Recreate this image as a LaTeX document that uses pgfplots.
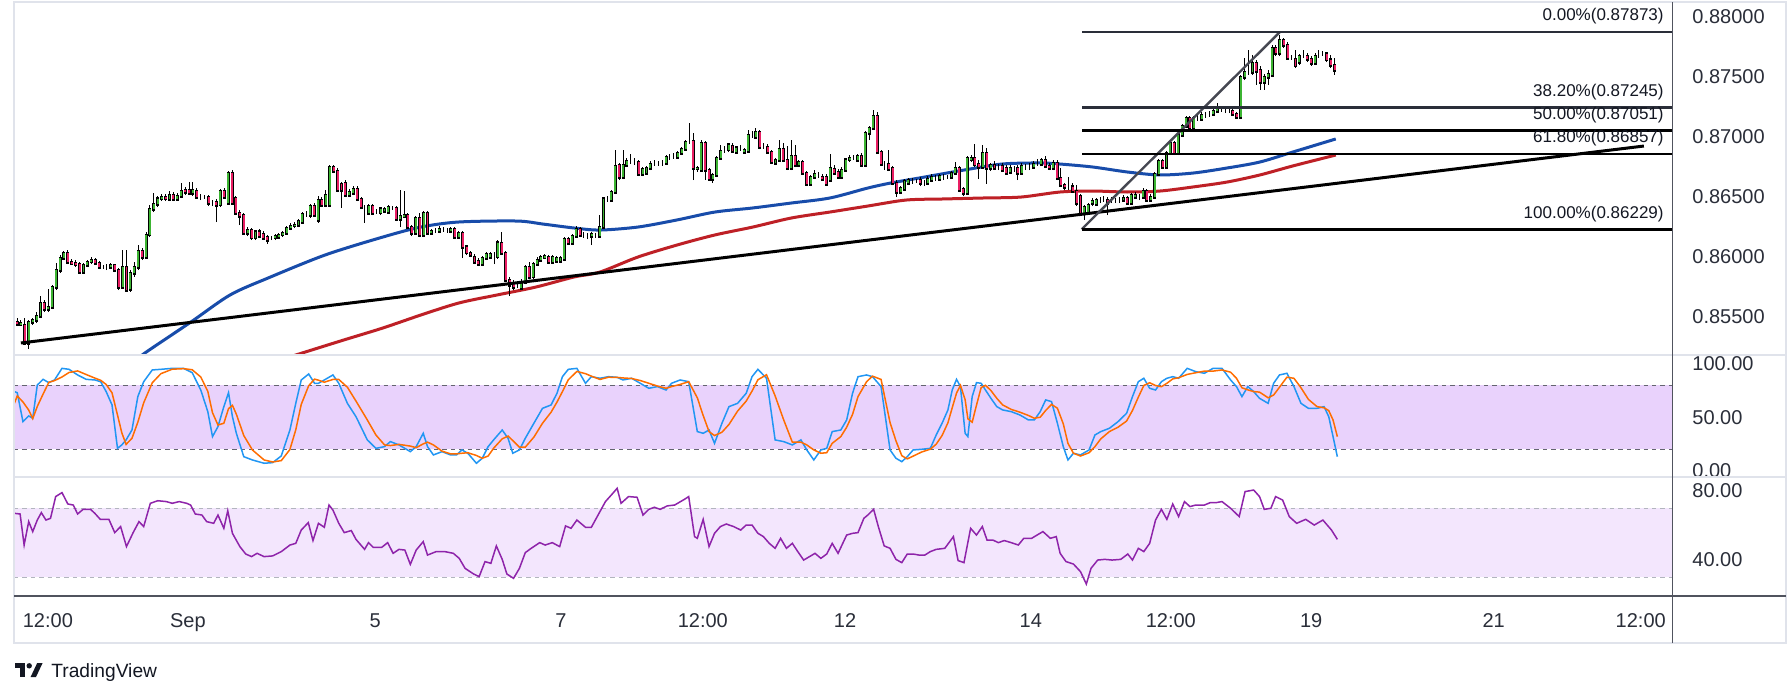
\documentclass[border=0pt]{standalone}
\usepackage{pgfplots}
\pgfplotsset{compat=1.18}
\usepackage{pgfplotstable}
\usepackage{fontspec}
\setmainfont{Liberation Sans}
\definecolor{cgreen}{RGB}{60,180,50}
\definecolor{cpink}{RGB}{233,30,99}
\definecolor{mablue}{RGB}{24,76,170}
\definecolor{mared}{RGB}{190,32,38}
\definecolor{kblue}{RGB}{33,150,243}
\definecolor{dorange}{RGB}{255,109,0}
\definecolor{rsipurple}{RGB}{142,36,170}
\definecolor{stband}{RGB}{233,210,252}
\definecolor{rsiband}{RGB}{243,230,253}
\definecolor{frame}{RGB}{224,227,235}
\definecolor{axisdark}{RGB}{80,83,94}
\definecolor{lbl}{RGB}{42,46,57}
\definecolor{tvblack}{RGB}{19,23,34}
\definecolor{diaggray}{RGB}{70,72,82}
\definecolor{dashdark}{RGB}{100,100,112}
\definecolor{dashlight}{RGB}{178,181,190}

\pgfplotstableread{
o c h l
0.85457 0.85440 0.85490 0.85423
0.85440 0.85448 0.85473 0.85432
0.85432 0.85282 0.85490 0.85265
0.85282 0.85457 0.85473 0.85232
0.85457 0.85473 0.85490 0.85432
0.85473 0.85507 0.85540 0.85448
0.85507 0.85615 0.85673 0.85490
0.85615 0.85565 0.85640 0.85540
0.85565 0.85582 0.85732 0.85540
0.85582 0.85748 0.85765 0.85565
0.85748 0.85890 0.85948 0.85723
0.85890 0.85990 0.86015 0.85865
0.85990 0.86032 0.86048 0.85973
0.86032 0.85957 0.86057 0.85940
0.85957 0.85948 0.85982 0.85932
0.85948 0.85940 0.85973 0.85915
0.85940 0.85873 0.85957 0.85865
0.85873 0.85932 0.85948 0.85857
0.85932 0.85957 0.85973 0.85915
0.85957 0.85973 0.85998 0.85940
0.85973 0.85948 0.85990 0.85932
0.85948 0.85915 0.85965 0.85898
0.85915 0.85915 0.85932 0.85898
0.85915 0.85915 0.85940 0.85890
0.85915 0.85932 0.85948 0.85898
0.85932 0.85890 0.85940 0.85873
0.85890 0.85748 0.85907 0.85723
0.85748 0.85915 0.86057 0.85732
0.85915 0.85723 0.86057 0.85707
0.85732 0.85865 0.85890 0.85707
0.85865 0.85915 0.85957 0.85832
0.85915 0.86048 0.86098 0.85890
0.86048 0.85998 0.86073 0.85973
0.85998 0.86182 0.86207 0.85990
0.86182 0.86398 0.86432 0.86165
0.86398 0.86440 0.86532 0.86373
0.86440 0.86482 0.86507 0.86415
0.86482 0.86498 0.86523 0.86465
0.86498 0.86482 0.86523 0.86465
0.86482 0.86515 0.86548 0.86465
0.86515 0.86482 0.86540 0.86465
0.86482 0.86507 0.86532 0.86473
0.86507 0.86548 0.86615 0.86490
0.86557 0.86540 0.86582 0.86515
0.86557 0.86532 0.86623 0.86515
0.86532 0.86557 0.86623 0.86507
0.86548 0.86498 0.86573 0.86482
0.86498 0.86498 0.86523 0.86473
0.86498 0.86498 0.86515 0.86482
0.86498 0.86448 0.86515 0.86423
0.86448 0.86448 0.86473 0.86423
0.86457 0.86432 0.86482 0.86290
0.86432 0.86548 0.86565 0.86415
0.86548 0.86498 0.86573 0.86482
0.86448 0.86698 0.86715 0.86432
0.86698 0.86448 0.86723 0.86432
0.86490 0.86365 0.86507 0.86348
0.86365 0.86340 0.86390 0.86265
0.86348 0.86198 0.86365 0.86182
0.86198 0.86223 0.86248 0.86173
0.86223 0.86157 0.86240 0.86140
0.86157 0.86207 0.86223 0.86140
0.86207 0.86173 0.86232 0.86157
0.86190 0.86157 0.86215 0.86140
0.86165 0.86140 0.86182 0.86107
0.86157 0.86157 0.86173 0.86140
0.86157 0.86173 0.86190 0.86140
0.86165 0.86182 0.86198 0.86148
0.86182 0.86198 0.86215 0.86165
0.86198 0.86240 0.86257 0.86182
0.86240 0.86257 0.86282 0.86223
0.86257 0.86265 0.86290 0.86240
0.86265 0.86298 0.86315 0.86248
0.86290 0.86357 0.86373 0.86282
0.86357 0.86357 0.86382 0.86332
0.86348 0.86423 0.86440 0.86323
0.86423 0.86348 0.86448 0.86332
0.86307 0.86473 0.86507 0.86282
0.86473 0.86432 0.86498 0.86415
0.86432 0.86515 0.86557 0.86415
0.86432 0.86748 0.86765 0.86415
0.86748 0.86715 0.86765 0.86698
0.86715 0.86557 0.86740 0.86540
0.86607 0.86557 0.86623 0.86407
0.86615 0.86515 0.86640 0.86498
0.86515 0.86540 0.86565 0.86498
0.86532 0.86565 0.86590 0.86515
0.86565 0.86482 0.86590 0.86465
0.86482 0.86415 0.86498 0.86398
0.86365 0.86365 0.86432 0.86282
0.86365 0.86423 0.86440 0.86348
0.86423 0.86365 0.86440 0.86348
0.86373 0.86373 0.86398 0.86357
0.86365 0.86398 0.86415 0.86348
0.86382 0.86398 0.86415 0.86365
0.86373 0.86415 0.86432 0.86357
0.86407 0.86407 0.86423 0.86390
0.86407 0.86315 0.86423 0.86298
0.86315 0.86340 0.86557 0.86248
0.86340 0.86348 0.86548 0.86323
0.86348 0.86248 0.86365 0.86232
0.86248 0.86198 0.86265 0.86173
0.86198 0.86323 0.86340 0.86182
0.86323 0.86182 0.86365 0.86165
0.86182 0.86365 0.86382 0.86165
0.86365 0.86198 0.86382 0.86182
0.86198 0.86215 0.86232 0.86182
0.86215 0.86215 0.86240 0.86198
0.86215 0.86232 0.86257 0.86198
0.86232 0.86232 0.86248 0.86207
0.86223 0.86223 0.86240 0.86198
0.86215 0.86232 0.86248 0.86198
0.86232 0.86165 0.86248 0.86148
0.86165 0.86198 0.86215 0.86148
0.86198 0.86082 0.86215 0.85990
0.86082 0.86032 0.86098 0.86015
0.86032 0.86015 0.86048 0.85998
0.85998 0.85957 0.86023 0.85940
0.85965 0.85940 0.85990 0.85923
0.85940 0.85990 0.86007 0.85923
0.85990 0.86023 0.86040 0.85973
0.85998 0.86023 0.86040 0.85982
0.86007 0.86007 0.86040 0.85940
0.85998 0.86115 0.86140 0.85982
0.86115 0.86032 0.86207 0.86015
0.86032 0.85807 0.86048 0.85790
0.85807 0.85765 0.85832 0.85673
0.85782 0.85748 0.85807 0.85723
0.85765 0.85765 0.85790 0.85740
0.85740 0.85790 0.85815 0.85723
0.85790 0.85915 0.85932 0.85773
0.85915 0.85832 0.85957 0.85815
0.85832 0.85940 0.85957 0.85815
0.85940 0.85973 0.85998 0.85923
0.85973 0.85998 0.86015 0.85957
0.85998 0.86007 0.86023 0.85982
0.85998 0.85957 0.86015 0.85940
0.85957 0.85998 0.86015 0.85940
0.85965 0.85990 0.86007 0.85948
0.85965 0.85990 0.86007 0.85948
0.85982 0.86148 0.86165 0.85965
0.86148 0.86115 0.86165 0.86098
0.86115 0.86173 0.86190 0.86098
0.86173 0.86232 0.86257 0.86157
0.86232 0.86182 0.86248 0.86165
0.86182 0.86182 0.86207 0.86157
0.86173 0.86173 0.86198 0.86148
0.86173 0.86190 0.86207 0.86098
0.86173 0.86173 0.86198 0.86157
0.86173 0.86248 0.86348 0.86157
0.86248 0.86482 0.86498 0.86232
0.86482 0.86482 0.86507 0.86457
0.86473 0.86540 0.86557 0.86457
0.86540 0.86757 0.86890 0.86523
0.86765 0.86665 0.86782 0.86640
0.86665 0.86765 0.86890 0.86648
0.86765 0.86798 0.86823 0.86748
0.86798 0.86798 0.86857 0.86773
0.86790 0.86790 0.86823 0.86765
0.86790 0.86690 0.86807 0.86673
0.86690 0.86732 0.86748 0.86673
0.86698 0.86740 0.86757 0.86682
0.86740 0.86773 0.86798 0.86723
0.86782 0.86782 0.86807 0.86757
0.86782 0.86782 0.86798 0.86757
0.86782 0.86782 0.86807 0.86757
0.86782 0.86832 0.86848 0.86765
0.86832 0.86832 0.86857 0.86807
0.86840 0.86840 0.86865 0.86815
0.86832 0.86865 0.86882 0.86815
0.86865 0.86898 0.86915 0.86848
0.86898 0.86957 0.86973 0.86882
0.86965 0.86965 0.87115 0.86940
0.86965 0.86740 0.87032 0.86640
0.86732 0.86740 0.86757 0.86707
0.86723 0.86948 0.86973 0.86707
0.86948 0.86723 0.86965 0.86640
0.86723 0.86648 0.86740 0.86632
0.86648 0.86682 0.86698 0.86615
0.86682 0.86823 0.86840 0.86665
0.86823 0.86882 0.86932 0.86807
0.86890 0.86890 0.86923 0.86865
0.86890 0.86932 0.86948 0.86873
0.86923 0.86882 0.86948 0.86865
0.86873 0.86907 0.86923 0.86857
0.86907 0.86907 0.86932 0.86882
0.86873 0.86890 0.86907 0.86857
0.86882 0.87015 0.87057 0.86865
0.87015 0.87015 0.87048 0.86990
0.86998 0.87040 0.87073 0.86982
0.87040 0.86915 0.87057 0.86898
0.86923 0.86923 0.86948 0.86898
0.86915 0.86873 0.86940 0.86857
0.86873 0.86790 0.86890 0.86773
0.86782 0.86807 0.86823 0.86765
0.86807 0.86898 0.86973 0.86790
0.86898 0.86807 0.86948 0.86790
0.86807 0.86740 0.86923 0.86723
0.86740 0.86840 0.86973 0.86723
0.86840 0.86765 0.86932 0.86748
0.86765 0.86790 0.86807 0.86748
0.86790 0.86698 0.86807 0.86682
0.86698 0.86607 0.86715 0.86590
0.86607 0.86665 0.86682 0.86590
0.86665 0.86690 0.86723 0.86648
0.86682 0.86682 0.86707 0.86657
0.86665 0.86648 0.86690 0.86632
0.86665 0.86607 0.86690 0.86590
0.86640 0.86740 0.86857 0.86623
0.86732 0.86698 0.86765 0.86682
0.86707 0.86665 0.86732 0.86648
0.86665 0.86723 0.86748 0.86648
0.86723 0.86807 0.86823 0.86707
0.86807 0.86823 0.86848 0.86790
0.86823 0.86823 0.86848 0.86807
0.86807 0.86840 0.86857 0.86790
0.86840 0.86765 0.86865 0.86748
0.86765 0.87032 0.87048 0.86748
0.87032 0.87073 0.87090 0.86973
0.87073 0.87173 0.87223 0.87057
0.87173 0.86873 0.87207 0.86857
0.86873 0.86773 0.86890 0.86757
0.86773 0.86773 0.86798 0.86723
0.86773 0.86732 0.86890 0.86715
0.86740 0.86615 0.86757 0.86598
0.86615 0.86540 0.86640 0.86498
0.86540 0.86573 0.86590 0.86523
0.86565 0.86632 0.86648 0.86548
0.86615 0.86640 0.86657 0.86598
0.86632 0.86632 0.86657 0.86607
0.86632 0.86632 0.86648 0.86615
0.86640 0.86615 0.86665 0.86590
0.86615 0.86615 0.86640 0.86590
0.86615 0.86648 0.86673 0.86598
0.86640 0.86665 0.86690 0.86623
0.86657 0.86657 0.86682 0.86632
0.86648 0.86673 0.86690 0.86632
0.86665 0.86665 0.86690 0.86640
0.86665 0.86665 0.86682 0.86648
0.86665 0.86698 0.86715 0.86648
0.86698 0.86740 0.86790 0.86682
0.86740 0.86557 0.86757 0.86540
0.86565 0.86532 0.86582 0.86507
0.86532 0.86823 0.86840 0.86515
0.86807 0.86823 0.86848 0.86790
0.86823 0.86765 0.86940 0.86748
0.86773 0.86748 0.86807 0.86648
0.86748 0.86865 0.86932 0.86732
0.86865 0.86740 0.86907 0.86607
0.86740 0.86765 0.86782 0.86715
0.86765 0.86740 0.86798 0.86723
0.86748 0.86748 0.86773 0.86723
0.86757 0.86723 0.86782 0.86707
0.86740 0.86698 0.86765 0.86682
0.86707 0.86740 0.86765 0.86690
0.86732 0.86732 0.86757 0.86707
0.86740 0.86698 0.86765 0.86640
0.86698 0.86757 0.86782 0.86682
0.86748 0.86748 0.86773 0.86723
0.86748 0.86748 0.86782 0.86723
0.86748 0.86773 0.86798 0.86732
0.86782 0.86782 0.86815 0.86757
0.86773 0.86807 0.86823 0.86757
0.86807 0.86757 0.86840 0.86740
0.86757 0.86740 0.86782 0.86723
0.86740 0.86782 0.86807 0.86723
0.86782 0.86657 0.86807 0.86640
0.86657 0.86598 0.86740 0.86582
0.86598 0.86582 0.86615 0.86557
0.86582 0.86582 0.86665 0.86557
0.86582 0.86548 0.86615 0.86532
0.86548 0.86448 0.86598 0.86423
0.86507 0.86365 0.86523 0.86340
0.86365 0.86415 0.86432 0.86307
0.86373 0.86432 0.86448 0.86357
0.86448 0.86465 0.86490 0.86423
0.86440 0.86473 0.86490 0.86423
0.86473 0.86473 0.86498 0.86448
0.86482 0.86482 0.86507 0.86457
0.86473 0.86448 0.86498 0.86348
0.86473 0.86473 0.86498 0.86448
0.86473 0.86473 0.86490 0.86448
0.86473 0.86473 0.86498 0.86448
0.86473 0.86490 0.86515 0.86457
0.86490 0.86448 0.86507 0.86432
0.86448 0.86515 0.86532 0.86432
0.86498 0.86515 0.86540 0.86482
0.86498 0.86498 0.86523 0.86473
0.86498 0.86548 0.86573 0.86482
0.86548 0.86473 0.86565 0.86457
0.86473 0.86498 0.86523 0.86457
0.86498 0.86690 0.86707 0.86482
0.86690 0.86798 0.86815 0.86673
0.86798 0.86748 0.86815 0.86732
0.86748 0.86865 0.86882 0.86732
0.86865 0.86948 0.86965 0.86848
0.86948 0.86865 0.86965 0.86848
0.86865 0.87015 0.87032 0.86848
0.87015 0.87090 0.87107 0.86998
0.87090 0.87157 0.87173 0.87073
0.87157 0.87073 0.87173 0.87057
0.87073 0.87157 0.87173 0.87057
0.87157 0.87157 0.87182 0.87132
0.87148 0.87182 0.87207 0.87132
0.87182 0.87182 0.87207 0.87157
0.87190 0.87190 0.87215 0.87165
0.87190 0.87215 0.87232 0.87173
0.87215 0.87232 0.87282 0.87198
0.87232 0.87232 0.87257 0.87207
0.87223 0.87223 0.87248 0.87198
0.87223 0.87223 0.87248 0.87198
0.87215 0.87190 0.87232 0.87173
0.87190 0.87165 0.87207 0.87148
0.87165 0.87498 0.87515 0.87148
0.87498 0.87540 0.87657 0.87473
0.87540 0.87540 0.87723 0.87515
0.87540 0.87615 0.87682 0.87515
0.87615 0.87548 0.87640 0.87432
0.87557 0.87457 0.87590 0.87390
0.87457 0.87498 0.87523 0.87390
0.87498 0.87523 0.87557 0.87432
0.87515 0.87740 0.87765 0.87498
0.87740 0.87698 0.87765 0.87673
0.87698 0.87807 0.87848 0.87673
0.87807 0.87765 0.87823 0.87740
0.87765 0.87657 0.87790 0.87640
0.87657 0.87657 0.87682 0.87640
0.87648 0.87590 0.87723 0.87573
0.87623 0.87673 0.87690 0.87598
0.87673 0.87673 0.87723 0.87657
0.87673 0.87648 0.87698 0.87623
0.87648 0.87615 0.87673 0.87590
0.87615 0.87673 0.87698 0.87598
0.87682 0.87682 0.87723 0.87657
0.87690 0.87690 0.87715 0.87673
0.87690 0.87640 0.87707 0.87623
0.87640 0.87598 0.87682 0.87573
0.87598 0.87557 0.87657 0.87515
}\candles

\pgfplotstableread{
h k d
-0.68 74.1 63.0
0.06 73.1 70.0
1.52 45.9 64.4
2.99 51.3 56.8
4.02 49.1 48.8
5.19 80.3 60.2
6.66 85.6 71.7
8.13 82.5 82.8
9.6 85.0 84.4
11.5 95.9 87.8
13.3 95.0 92.0
15.5 89.7 93.5
17.7 85.6 90.1
19.9 85.0 86.8
21.4 83.4 84.7
22.8 74.1 80.8
24.3 61.6 73.0
25.7 20.9 52.2
26.8 24.1 35.5
27.9 28.8 24.6
29.4 38.1 30.3
30.9 69.4 45.4
32.4 83.4 63.6
34.6 94.4 82.4
36.8 95.0 90.9
39.7 95.9 95.1
42.6 95.9 95.6
44.8 91.9 94.6
47.0 75.6 87.8
48.8 55.3 74.3
50.0 31.9 54.3
51.4 41.3 42.8
52.9 60.0 44.4
54.1 73.1 58.1
55.1 50.6 61.2
56.1 35.0 52.9
58.0 13.1 32.9
60.2 10.0 19.4
63.2 6.9 10.0
65.4 7.5 8.1
67.6 13.8 9.4
69.8 38.1 19.8
71.3 63.1 38.3
72.7 85.0 62.1
74.6 90.6 79.6
76.1 81.9 85.8
77.1 81.9 84.8
78.6 85.0 82.9
80.8 89.7 85.5
82.3 81.9 85.5
84.5 63.1 78.2
86.7 50.6 65.2
89.6 28.8 47.5
91.8 20.9 33.4
94.0 22.5 24.1
95.5 27.2 23.5
97.7 24.1 24.6
100.6 17.8 23.0
102.1 22.5 21.5
103.9 35.0 25.1
105.0 22.5 26.7
106.5 14.7 24.1
108.7 17.8 18.3
110.9 14.7 15.7
112.4 14.7 15.7
113.8 19.4 16.3
115.3 16.3 16.8
117.5 6.9 14.2
119.0 11.6 11.6
120.5 22.5 13.7
121.9 28.8 21.0
124.1 38.1 29.8
125.6 30.3 32.4
126.8 16.3 28.2
128.5 19.4 22.0
130.0 30.3 22.0
132.2 44.4 31.4
134.4 58.4 44.4
136.6 61.6 54.8
138.1 72.5 64.2
139.5 88.1 74.1
141.0 95.0 85.2
143.2 95.9 93.0
145.4 81.9 90.9
146.9 88.1 88.6
149.1 86.6 85.5
151.3 88.1 87.6
153.5 87.5 87.4
155.0 85.0 86.9
157.2 86.6 86.4
159.4 81.9 84.5
161.6 77.2 81.9
163.8 78.8 79.3
166.0 75.6 77.2
167.4 81.9 78.8
169.6 85.0 80.8
171.8 83.4 83.4
174.0 36.6 68.3
175.5 35.0 51.7
177.0 38.1 36.6
178.4 25.6 32.9
180.3 44.4 36.0
182.1 60.0 43.3
184.3 63.1 55.8
186.5 72.5 65.2
188.0 88.1 74.6
189.5 95.0 85.2
191.7 86.6 89.9
193.9 28.8 70.1
196.1 27.2 47.5
198.3 24.1 26.7
200.5 28.8 26.7
202.0 19.4 24.1
203.8 10.0 19.4
205.6 19.4 16.3
207.1 20.9 16.8
208.5 36.6 25.6
210.7 38.1 31.9
212.2 47.5 40.7
213.7 72.5 52.7
215.1 88.1 69.4
217.3 89.7 83.4
218.8 88.1 88.6
221.0 78.8 85.5
223.3 19.4 45.0
224.8 11.6 28.0
226.3 8.4 14.0
227.7 13.1 11.0
229.2 19.4 13.6
231.4 20.0 17.5
233.6 20.9 20.1
235.1 33.4 24.8
236.6 44.4 32.9
238.1 56.9 44.9
239.2 75.6 59.0
240.3 85.6 72.7
241.3 78.8 80.0
242.5 35.0 66.5
243.2 31.9 48.6
244.3 69.4 45.4
245.4 82.5 61.3
246.6 81.9 77.9
247.7 75.6 80.0
249.1 67.8 75.1
250.6 60.0 67.8
252.1 56.9 61.6
254.3 55.3 57.4
256.5 52.2 54.8
258.7 47.5 51.7
260.2 47.5 49.1
261.7 55.3 50.1
263.1 66.3 56.4
264.6 64.7 62.1
266.1 44.4 58.5
267.6 22.5 43.9
268.8 10.0 25.6
270.2 16.3 16.3
272.0 14.7 13.7
274.2 19.4 16.8
275.7 33.4 22.5
277.2 36.6 29.8
279.4 39.7 36.6
281.6 45.9 40.7
283.8 53.8 46.5
285.3 69.4 56.4
286.8 83.4 68.9
288.2 86.6 79.8
289.7 77.2 82.4
291.2 75.6 79.8
292.7 83.4 78.7
294.1 86.6 81.9
295.6 88.1 86.0
297.1 86.6 87.1
299.3 95.9 90.2
301.5 92.8 91.8
303.7 91.3 93.3
305.9 95.9 93.3
308.2 95.9 94.4
310.4 85.0 92.3
311.9 78.8 86.6
313.3 69.4 77.7
314.8 78.8 75.7
316.3 74.1 74.1
317.8 67.8 73.6
320.0 63.1 68.3
321.4 81.9 70.9
322.9 89.7 78.2
324.8 91.3 87.6
326.6 78.8 86.6
328.4 63.1 77.7
330.3 58.4 66.8
332.5 58.4 60.0
334.3 60.0 58.9
335.5 50.6 56.3
336.6 31.9 47.5
337.7 13.1 31.9
}\stoch

\pgfplotstableread{
h r
-0.68 67.1
0.79 66.7
1.82 48.7
2.99 62.3
4.02 56.5
5.19 63.2
6.22 67.5
7.4 63.2
8.57 64.2
9.89 76.8
11.5 79.1
13.0 72.5
14.4 71.9
15.5 66.7
16.9 69.4
18.8 69.4
19.9 67.1
21.3 63.6
23.5 63.6
25.0 55.9
26.5 59.4
28.0 47.8
29.7 55.9
31.2 62.3
32.4 59.4
34.1 72.9
36.0 74.4
38.2 73.9
39.7 72.9
41.5 73.9
43.4 72.9
44.4 71.9
45.6 66.7
47.3 66.1
48.5 62.3
50.3 61.3
51.4 66.1
52.9 58.4
53.9 68.6
55.1 55.5
57.0 47.8
58.5 43.5
60.0 42.0
61.4 43.9
63.2 42.0
65.4 42.4
67.6 44.9
69.8 48.7
71.3 49.7
72.7 57.4
74.5 61.7
75.7 51.3
77.1 61.3
78.6 59.0
79.8 71.9
80.8 69.0
82.3 61.3
83.7 55.9
85.5 57.1
86.7 52.0
88.9 46.2
89.9 50.1
91.1 47.4
93.3 47.4
94.8 50.1
96.2 43.9
97.7 46.2
99.2 45.8
100.6 37.5
102.1 45.8
103.9 50.7
105.0 42.9
107.2 44.9
109.4 44.9
111.6 43.9
113.1 41.0
114.6 35.2
116.8 31.9
118.2 30.4
119.7 39.1
121.2 38.1
122.6 48.2
124.1 40.4
125.3 31.9
127.0 29.4
128.5 35.2
130.0 44.3
131.5 46.8
133.7 50.1
135.1 48.7
136.9 50.1
138.8 47.8
140.3 59.8
141.7 58.4
143.2 63.2
145.4 59.0
146.9 59.0
149.1 68.1
150.5 73.9
152.0 77.7
153.5 81.6
154.5 72.9
156.4 76.8
158.6 76.4
160.1 66.1
161.6 69.4
163.0 70.6
164.5 69.4
166.3 71.4
168.2 71.9
170.7 75.2
171.8 76.8
173.3 53.6
174.0 52.6
175.5 63.6
177.0 47.8
178.4 55.5
179.9 59.4
181.4 60.9
183.3 59.4
185.1 57.4
186.5 60.3
188.0 60.3
189.5 55.5
190.9 53.6
192.4 49.7
193.9 46.8
195.3 52.6
196.8 46.8
198.3 49.7
199.7 44.9
201.2 40.0
202.7 42.0
204.1 43.9
205.6 41.0
207.1 43.5
208.5 49.7
210.0 43.9
212.2 54.5
213.7 55.5
215.1 55.9
216.6 64.2
217.6 66.1
219.1 69.4
220.3 59.4
221.8 48.2
223.3 46.8
224.8 40.4
226.3 38.5
227.7 43.5
229.2 43.5
230.7 42.9
232.2 42.9
233.6 44.9
235.1 46.2
237.3 46.8
239.5 53.6
240.7 39.7
242.2 38.5
243.9 58.4
245.4 54.5
246.9 59.4
248.1 51.6
249.6 51.6
251.0 50.1
252.5 51.3
254.3 50.1
256.1 48.7
257.5 52.6
259.5 52.6
260.9 54.5
262.4 56.5
264.3 52.6
265.8 53.6
266.8 43.9
268.3 39.1
270.2 37.7
272.0 33.3
273.5 26.1
274.7 35.2
276.4 40.0
278.2 40.4
280.1 40.0
282.3 40.4
284.1 43.5
285.3 40.0
286.8 46.8
288.2 44.9
289.7 49.7
291.2 63.2
292.7 69.4
294.1 63.6
295.6 72.5
297.1 65.2
298.6 73.9
300.0 71.0
301.5 71.9
303.7 71.9
305.2 73.3
306.7 73.3
308.2 73.9
310.4 70.0
312.6 65.2
314.1 79.7
316.3 80.6
317.8 76.8
319.0 69.4
320.7 70.0
321.9 76.8
323.7 74.8
325.4 65.2
327.3 61.3
329.6 63.6
331.8 60.3
334.0 63.2
336.2 57.4
337.7 52.0
}\rsi

\pgfplotsset{
  tvaxis/.style={
    anchor=south west, scale only axis, width=829pt,
    xmin=-0.77, xmax=423.3,
    axis line style={draw=none},
    xtick=\empty,
    major tick length=0pt,
    yticklabel pos=right,
    yticklabel style={anchor=west, xshift=10pt, inner sep=0pt, font=\fontsize{10}{12}\selectfont, text=lbl},
    scaled y ticks=false,
    clip=true,
  },
  wick/.style={draw=none, mark=none, forget plot,
    error bars/.cd, y dir=plus, y explicit, error mark=none,
    error bar style={line width=0.5pt, draw=black}},
  bodyout/.style={draw=none, mark=none, forget plot,
    error bars/.cd, y dir=both, y explicit, error mark=none,
    error bar style={line width=1.5pt, draw=black, line cap=rect}},
  bodyin/.style={draw=none, mark=none, forget plot,
    error bars/.cd, y dir=both, y explicit, error mark=none,
    error bar style={line width=0.95pt, draw=#1}},
}

\begin{document}
\begin{tikzpicture}
\fill[white] (0,0) rectangle (895.5pt,348.5pt);
\useasboundingbox (0,0) rectangle (895.5pt,348.5pt);

% ---------------- price panel ----------------
\begin{axis}[tvaxis, at={(7pt,171.15pt)}, height=176.35pt,
  ymin=0.851842, ymax=0.881233,
  ytick={0.855,0.86,0.865,0.87,0.875,0.88},
  yticklabel={\pgfmathprintnumber[fixed,fixed zerofill,precision=5,assume math mode=true]{\tick}}]

\addplot[mablue, line width=1.5pt, smooth] coordinates {
(28.9,0.85098) (32.7,0.85198) (44.5,0.85457) (54.5,0.85682) (64.2,0.85823)
(78.8,0.86015) (93.6,0.86165) (103.3,0.86248) (113.0,0.86290) (127.9,0.86298)
(134.5,0.86273) (142.5,0.86240) (149.1,0.86223) (158.8,0.86248) (168.8,0.86307)
(178.5,0.86373) (188.2,0.86407) (198.0,0.86448) (207.9,0.86490) (217.6,0.86573)
(223.5,0.86615) (232.2,0.86665) (242.2,0.86723) (251.9,0.86773) (261.6,0.86782)
(266.8,0.86773) (275.2,0.86748) (283.9,0.86707) (292.3,0.86682) (300.8,0.86698)
(309.5,0.86740) (317.9,0.86790) (326.3,0.86873) (337.3,0.86982)};

\addplot[mared, line width=1.5pt, smooth] coordinates {
(67.3,0.85140) (72.9,0.85198) (83.6,0.85307) (93.6,0.85407) (103.3,0.85515)
(113.0,0.85615) (122.8,0.85682) (132.7,0.85748) (142.5,0.85832) (149.1,0.85873)
(158.8,0.85998) (168.8,0.86098) (178.5,0.86182) (188.2,0.86248) (198.0,0.86323)
(207.9,0.86373) (217.6,0.86423) (227.4,0.86473) (237.1,0.86482) (247.1,0.86490)
(256.8,0.86498) (266.8,0.86540) (275.2,0.86548) (283.9,0.86540) (292.3,0.86548)
(300.8,0.86582) (309.5,0.86623) (317.9,0.86682) (326.3,0.86757) (337.3,0.86848)};

% candles: wicks, body outline, pink fill, green fill
\addplot[wick] table[x expr=\coordindex, y=l, y error plus expr=\thisrow{h}-\thisrow{l}] {\candles};
\addplot[bodyout]
  table[x expr=\coordindex, y expr=(\thisrow{o}+\thisrow{c})/2, y error expr=abs(\thisrow{c}-\thisrow{o})/2] {\candles};
\addplot[restrict expr to domain={\thisrow{o}-\thisrow{c}}{0.000001:1}, bodyin=cpink]
  table[x expr=\coordindex, y expr=(\thisrow{o}+\thisrow{c})/2, y error expr=abs(\thisrow{c}-\thisrow{o})/2] {\candles};
\addplot[restrict expr to domain={\thisrow{c}-\thisrow{o}}{0.000001:1}, bodyin=cgreen]
  table[x expr=\coordindex, y expr=(\thisrow{o}+\thisrow{c})/2, y error expr=abs(\thisrow{c}-\thisrow{o})/2] {\candles};

% trend line and fibonacci
\addplot[black, line width=1.5pt] coordinates {(1.0,0.85282) (416.1,0.86923)};
\addplot[diaggray, line width=1.2pt] coordinates {(272.3,0.86229) (323.0,0.87873)};
\addplot[lbl, line width=1.3pt] coordinates {(272.4,0.87873) (423.3,0.87873)};
\addplot[lbl, line width=1.3pt] coordinates {(272.4,0.87245) (423.3,0.87245)};
\addplot[black, line width=1.3pt] coordinates {(272.4,0.87051) (423.3,0.87051)};
\addplot[black, line width=1.3pt] coordinates {(272.4,0.86857) (423.3,0.86857)};
\addplot[black, line width=1.3pt] coordinates {(272.4,0.86229) (423.3,0.86229)};

\begin{scope}[every node/.style={anchor=east, inner sep=0pt, font=\fontsize{8.5}{10}\selectfont, text=tvblack, xshift=-4pt, yshift=7.75pt}]
\node at (axis cs:423.3,0.87873) {0.00\%(0.87873)};
\node at (axis cs:423.3,0.87245) {38.20\%(0.87245)};
\node at (axis cs:423.3,0.87051) {50.00\%(0.87051)};
\node at (axis cs:423.3,0.86857) {61.80\%(0.86857)};
\node at (axis cs:423.3,0.86229) {100.00\%(0.86229)};
\end{scope}
\end{axis}

% ---------------- stochastic panel ----------------
\begin{axis}[tvaxis, at={(7pt,110.15pt)}, height=61pt,
  ymin=-5.7, ymax=108.7, ytick={0,50,100},
  yticklabel={\pgfmathprintnumber[fixed,fixed zerofill,precision=2,assume math mode=true]{\tick}}]
\addplot[draw=none, fill=stband, forget plot] coordinates {(-0.77,20) (423.3,20) (423.3,80) (-0.77,80)} -- cycle;
\addplot[dashdark, line width=0.6pt, dash pattern=on 2.2pt off 2pt, forget plot] coordinates {(-0.77,80) (423.3,80)};
\addplot[dashdark, line width=0.6pt, dash pattern=on 2.2pt off 2pt, forget plot] coordinates {(-0.77,20) (423.3,20)};
\addplot[kblue, line width=0.75pt] table[x=h, y=k] {\stoch};
\addplot[dorange, line width=0.75pt] table[x=h, y=d] {\stoch};
\end{axis}

% ---------------- RSI panel ----------------
\begin{axis}[tvaxis, at={(7pt,50.5pt)}, height=59.65pt,
  ymin=19.16, ymax=88.32, ytick={40,80},
  yticklabel={\pgfmathprintnumber[fixed,fixed zerofill,precision=2,assume math mode=true]{\tick}},
  xtick={7.9,43.7,91.6,139.1,175.4,211.8,259.3,295.1,331.0,377.7,415.3},
  xticklabels={12:00,Sep,5,7,12:00,12,14,12:00,19,21,12:00},
  xticklabel style={anchor=base, yshift=-15.5pt, inner sep=0pt, font=\fontsize{10}{12}\selectfont, text=lbl}]
\addplot[draw=none, fill=rsiband, forget plot] coordinates {(-0.77,30) (423.3,30) (423.3,70) (-0.77,70)} -- cycle;
\addplot[dashlight, line width=0.6pt, dash pattern=on 2.2pt off 2pt, forget plot] coordinates {(-0.77,70) (423.3,70)};
\addplot[dashlight, line width=0.6pt, dash pattern=on 2.2pt off 2pt, forget plot] coordinates {(-0.77,30) (423.3,30)};
\addplot[rsipurple, line width=0.75pt] table[x=h, y=r] {\rsi};
\end{axis}

% ---------------- frame ----------------
\draw[frame, line width=0.8pt] (7pt,27pt) rectangle (893pt,347.5pt);
\draw[frame, line width=0.9pt] (7pt,171.15pt) -- (893pt,171.15pt);
\draw[frame, line width=0.9pt] (7pt,110.15pt) -- (893pt,110.15pt);
\draw[axisdark, line width=0.6pt] (7pt,50.5pt) -- (893pt,50.5pt);
\draw[axisdark, line width=0.5pt] (836pt,27pt) -- (836pt,347.5pt);

% ---------------- logo ----------------
\fill[tvblack] (7.5pt,14.6pt) rectangle (12.6pt,17pt);
\fill[tvblack] (10.2pt,10pt) rectangle (12.6pt,17pt);
\fill[tvblack] (14.6pt,15.6pt) circle (1.35pt);
\fill[tvblack] (15.3pt,10pt) -- (18pt,10pt) -- (21.3pt,17pt) -- (18.6pt,17pt) -- cycle;
\node[anchor=base west, inner sep=0pt, font=\fontsize{9.6}{11}\selectfont, text=tvblack] at (25.5pt,10pt) {TradingView};
\end{tikzpicture}
\end{document}
